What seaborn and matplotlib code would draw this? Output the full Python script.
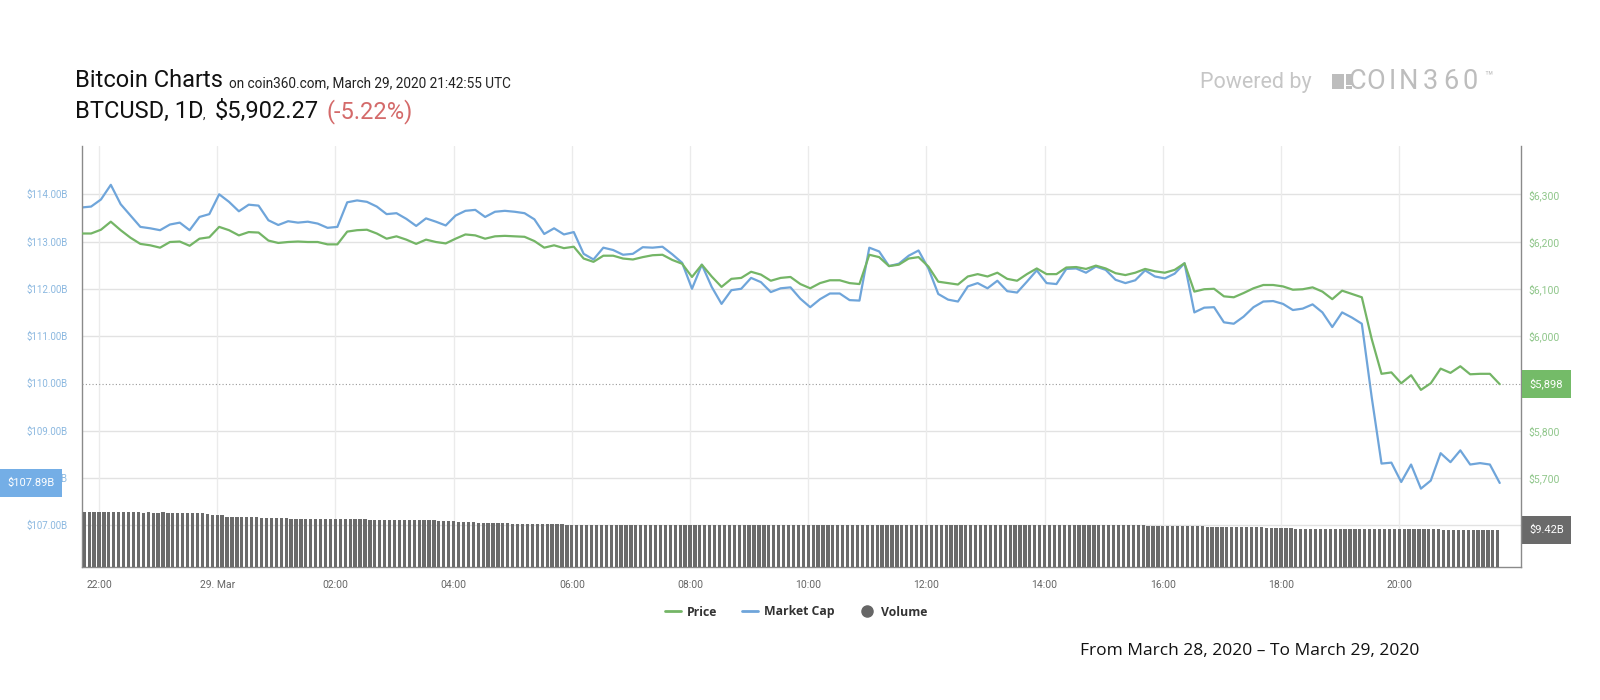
import numpy as np
import pandas as pd
import matplotlib
matplotlib.use("Agg")
import matplotlib.pyplot as plt
import matplotlib.transforms as mtransforms
from matplotlib.lines import Line2D
from matplotlib.patches import Rectangle
import seaborn as sns

sns.set_theme(style="white")
plt.rcParams["font.family"] = ["Roboto", "DejaVu Sans"]

# ---------------- data ----------------
x_tick_hours = [22, 24, 26, 28, 30, 32, 34, 36, 38, 40, 42, 44]
x_tick_labels = ["22:00", "29. Mar", "02:00", "04:00", "06:00", "08:00",
                 "10:00", "12:00", "14:00", "16:00", "18:00", "20:00"]
mcap_ticks = [107, 108, 109, 110, 111, 112, 113, 114]
price_ticks = [5700, 5800, 6000, 6100, 6200, 6300]

# 10-minute samples, 21:42 (28 Mar) -> 21:42 (29 Mar)
price = [
    6217, 6217, 6225, 6242, 6224, 6208, 6195, 6192, 6187, 6199, 6200, 6191,
    6206, 6209, 6231, 6224, 6213, 6220, 6219, 6202, 6197, 6199, 6200, 6199,
    6199, 6194, 6194, 6221, 6224, 6225, 6217, 6206, 6211, 6204, 6195, 6204,
    6199, 6196, 6206, 6215, 6213, 6206, 6211, 6212, 6211, 6210, 6201, 6187,
    6192, 6186, 6189, 6164, 6157, 6170, 6170, 6164, 6162, 6167, 6171, 6172,
    6161, 6153, 6125, 6151, 6126, 6104, 6121, 6123, 6136, 6130, 6117, 6123,
    6125, 6110, 6101, 6112, 6118, 6118, 6112, 6110, 6172, 6167, 6148, 6151,
    6164, 6167, 6147, 6115, 6112, 6109, 6126, 6131, 6126, 6134, 6121, 6117,
    6131, 6143, 6131, 6131, 6145, 6146, 6142, 6149, 6143, 6133, 6129, 6134,
    6142, 6137, 6134, 6140, 6154, 6094, 6099, 6100, 6084, 6082, 6091, 6101,
    6108, 6108, 6105, 6098, 6099, 6103, 6094, 6078, 6096, 6089, 6082, 5994,
    5920, 5923, 5900, 5917, 5886, 5900, 5931, 5922, 5936, 5919, 5920, 5920,
    5898,
]

market_cap = [
    113.72, 113.74, 113.89, 114.20, 113.79, 113.55, 113.31, 113.28, 113.24, 113.36, 113.40, 113.24,
    113.52, 113.58, 114.00, 113.84, 113.64, 113.78, 113.76, 113.45, 113.35, 113.43, 113.40, 113.42,
    113.38, 113.29, 113.31, 113.83, 113.87, 113.84, 113.74, 113.58, 113.60, 113.48, 113.33, 113.49,
    113.42, 113.34, 113.55, 113.65, 113.67, 113.52, 113.63, 113.65, 113.63, 113.60, 113.47, 113.16,
    113.28, 113.15, 113.20, 112.74, 112.62, 112.87, 112.82, 112.72, 112.74, 112.88, 112.87, 112.89,
    112.73, 112.55, 112.00, 112.51, 112.04, 111.68, 111.97, 112.00, 112.23, 112.14, 111.93, 112.01,
    112.03, 111.79, 111.61, 111.78, 111.90, 111.90, 111.76, 111.75, 112.87, 112.79, 112.48, 112.53,
    112.70, 112.81, 112.43, 111.89, 111.77, 111.73, 112.05, 112.12, 112.01, 112.17, 111.95, 111.92,
    112.15, 112.39, 112.12, 112.10, 112.42, 112.43, 112.34, 112.47, 112.40, 112.19, 112.12, 112.18,
    112.39, 112.26, 112.22, 112.32, 112.54, 111.50, 111.60, 111.61, 111.29, 111.26, 111.41, 111.61,
    111.73, 111.74, 111.68, 111.55, 111.58, 111.67, 111.50, 111.19, 111.50, 111.39, 111.26, 109.71,
    108.30, 108.32, 107.91, 108.28, 107.77, 107.94, 108.52, 108.33, 108.58, 108.28, 108.31, 108.28,
    107.89,
]

# 5-minute volume bars (billions USD), 21:45 (28 Mar) -> 21:40 (29 Mar)
volume = [
    14.0, 14.0, 14.0, 14.0, 14.0, 14.0, 14.0, 14.0, 14.0, 14.0, 14.0, 14.0,
    13.8, 13.9, 13.8, 13.8, 13.9, 13.8, 13.8, 13.8, 13.8, 13.8, 13.8, 13.8,
    13.7, 13.5, 13.3, 13.2, 13.2, 12.8, 12.8, 12.8, 12.8, 12.8, 12.8, 12.8,
    12.5, 12.5, 12.5, 12.5, 12.5, 12.5, 12.2, 12.2, 12.2, 12.2, 12.2, 12.2,
    12.2, 12.2, 12.2, 12.2, 12.2, 12.2, 12.2, 12.2, 12.2, 12.2, 12.0, 12.0,
    12.0, 12.0, 12.0, 12.0, 12.0, 12.0, 12.0, 12.0, 12.0, 12.0, 12.0, 12.0,
    11.75, 11.75, 11.75, 11.75, 11.5, 11.5, 11.5, 11.5, 11.2, 11.2, 11.2, 11.2,
    11.2, 11.2, 11.2, 10.95, 10.95, 10.95, 10.95, 10.95, 10.95, 10.95, 10.95, 10.95,
    10.95, 10.95, 10.8, 10.8, 10.8, 10.8, 10.7, 10.7, 10.7, 10.7, 10.7, 10.7,
    10.7, 10.7, 10.7, 10.7, 10.7, 10.7, 10.7, 10.7, 10.7, 10.7, 10.7, 10.7,
    10.7, 10.7, 10.7, 10.7, 10.7, 10.7, 10.6, 10.6, 10.6, 10.6, 10.6, 10.6,
    10.6, 10.6, 10.6, 10.6, 10.6, 10.6, 10.6, 10.6, 10.6, 10.6, 10.6, 10.6,
    10.6, 10.6, 10.6, 10.6, 10.6, 10.6, 10.6, 10.6, 10.6, 10.6, 10.6, 10.6,
    10.7, 10.7, 10.7, 10.7, 10.7, 10.7, 10.7, 10.7, 10.7, 10.7, 10.7, 10.7,
    10.7, 10.7, 10.7, 10.7, 10.7, 10.7, 10.7, 10.7, 10.7, 10.7, 10.7, 10.7,
    10.7, 10.7, 10.7, 10.7, 10.7, 10.7, 10.7, 10.7, 10.7, 10.7, 10.7, 10.7,
    10.6, 10.6, 10.6, 10.6, 10.6, 10.6, 10.6, 10.6, 10.6, 10.6, 10.6, 10.6,
    10.6, 10.6, 10.6, 10.6, 10.6, 10.6, 10.6, 10.6, 10.6, 10.6, 10.6, 10.6,
    10.5, 10.5, 10.5, 10.5, 10.5, 10.5, 10.5, 10.5, 10.5, 10.5, 10.5, 10.5,
    10.3, 10.3, 10.3, 10.3, 10.3, 10.3, 10.3, 10.3, 10.3, 10.3, 10.3, 10.3,
    10.0, 10.0, 10.0, 10.0, 10.0, 10.0, 9.8, 9.8, 9.8, 9.8, 9.8, 9.8,
    9.7, 9.7, 9.7, 9.7, 9.7, 9.7, 9.7, 9.7, 9.7, 9.7, 9.7, 9.7,
    9.6, 9.6, 9.6, 9.6, 9.6, 9.6, 9.6, 9.6, 9.6, 9.6, 9.6, 9.6,
    9.5, 9.5, 9.5, 9.5, 9.5, 9.5, 9.5, 9.5, 9.5, 9.5, 9.5, 9.42,
]

line_start_h = 21 + 42 / 60   # hours since 28 Mar 00:00 UTC
line_step_h = 10 / 60
vol_start_h = 21 + 45 / 60
vol_step_h = 5 / 60

df = pd.DataFrame({
    "hour": line_start_h + np.arange(len(price)) * line_step_h,
    "price": price,
    "market_cap": market_cap,
})
vdf = pd.DataFrame({
    "hour": vol_start_h + np.arange(len(volume)) * vol_step_h,
    "volume": volume,
})

# ---------------- styling ----------------
GREEN = "#74b566"
BLUE = "#6fa5da"
GREEN_LBL = "#8fc68a"
BLUE_LBL = "#8bb8e0"
BAR = "#6b6b6b"
SPINE = "#8a8a8a"

W, H = 1600, 700
fig = plt.figure(figsize=(16, 7), dpi=100, facecolor="white")
L, R, T, B = 81.5, 1521, 146, 567
ax_m = fig.add_axes([L / W, 1 - B / H, (R - L) / W, (B - T) / H])
ax_m.set_facecolor("white")
ax_v = ax_m.twinx()
ax_p = ax_m.twinx()

ax_m.set_xlim(21.704, 46.06)
ax_m.set_ylim(106.111, 115.022)
ax_p.set_ylim(5511.1, 6402.2)
ax_v.set_ylim(0, 107.2)

# grid
for v in mcap_ticks:
    if v != 110:
        ax_m.axhline(v, color="#e2e2e2", lw=1, zorder=0)
for hx in x_tick_hours:
    ax_m.axvline(hx, color="#ebebeb", lw=1, zorder=0)

# volume bars
ax_v.bar(vdf["hour"], vdf["volume"], width=vol_step_h * 0.66, color=BAR,
         linewidth=0, align="center")

# lines
sns.lineplot(data=df, x="hour", y="market_cap", ax=ax_m, color=BLUE, linewidth=1.6)
sns.lineplot(data=df, x="hour", y="price", ax=ax_p, color=GREEN, linewidth=1.6)
ax_p.axhline(price[-1], color="#9a9a9a", lw=0.8, linestyle=(0, (1, 2)), zorder=1)

for a in (ax_m, ax_v, ax_p):
    a.set_xlabel("")
    a.set_ylabel("")
    for s in a.spines.values():
        s.set_visible(False)
ax_m.spines["left"].set_visible(True)
ax_m.spines["bottom"].set_visible(True)
ax_p.spines["right"].set_visible(True)
for s in (ax_m.spines["left"], ax_m.spines["bottom"], ax_p.spines["right"]):
    s.set_color(SPINE)
    s.set_linewidth(1.0)

ax_m.set_xticks(x_tick_hours, x_tick_labels)
ax_m.tick_params(axis="x", length=0, pad=9, labelsize=7.5, labelcolor="#666666")
ax_m.set_yticks(mcap_ticks, [f"${v:.2f}B" for v in mcap_ticks])
ax_m.tick_params(axis="y", length=0, pad=10, labelsize=7, labelcolor=BLUE_LBL)
ax_v.set_yticks([])
ax_v.tick_params(right=False, labelright=False, left=False, labelleft=False)
ax_p.set_yticks(price_ticks, [f"${v:,}" for v in price_ticks])
ax_p.tick_params(axis="y", length=0, pad=5, labelsize=7.5, labelcolor=GREEN_LBL)


def value_box(ax, yval, text, x0, x1, color, h_px=28):
    y0, y1 = ax.get_ylim()
    upp = (y1 - y0) / (B - T)
    trans = mtransforms.blended_transform_factory(fig.transFigure, ax.transData)
    ax.add_patch(Rectangle((x0 / W, yval - h_px / 2 * upp), (x1 - x0) / W, h_px * upp,
                           transform=trans, facecolor=color, edgecolor="none",
                           clip_on=False, zorder=10))
    ax.text((x0 + x1) / 2 / W, yval, text, transform=trans, ha="center", va="center",
            color="white", fontsize=8, zorder=11, clip_on=False)


value_box(ax_m, market_cap[-1], f"${market_cap[-1]:.2f}B", 0, 62, "#74aee6")
value_box(ax_p, price[-1], f"${price[-1]:,.0f}", 1522, 1571, "#74bb68")
value_box(ax_v, volume[-1], f"${volume[-1]:.2f}B", 1522, 1571, "#6a6a6a")

# ---------------- header ----------------
def ftext(x, y, s, **kw):
    return fig.text(x / W, 1 - y / H, s, ha=kw.pop("ha", "left"),
                    va=kw.pop("va", "baseline"), **kw)


ftext(75, 87, "Bitcoin Charts", fontsize=17, color="#111111")
ftext(229, 87, "on coin360.com, March 29, 2020 21:42:55 UTC", fontsize=9.8, color="#222222")
ftext(75, 118, "BTCUSD, 1D", fontsize=17, color="#111111")
ftext(203, 118, ",", fontsize=9, color="#222222")
ftext(215, 118, "$5,902.27", fontsize=17, color="#111111")
ftext(326, 118, "(-5.22%)", fontsize=17, color="#d46a6a")

LOGO = "#bdbdbd"
ftext(1200, 88, "Powered by", fontsize=15.5, color="#c6c6c6")
fig.patches.append(Rectangle((1332 / W, 1 - 89 / H), 12 / W, 15 / H,
                             transform=fig.transFigure, facecolor=LOGO, edgecolor="none"))
fig.patches.append(Rectangle((1346 / W, 1 - 84.5 / H), 6 / W, 10.5 / H,
                             transform=fig.transFigure, facecolor=LOGO, edgecolor="none"))
fig.patches.append(Rectangle((1346 / W, 1 - 89 / H), 6 / W, 3.2 / H,
                             transform=fig.transFigure, facecolor=LOGO, edgecolor="none"))
for ch, cx in zip("COIN360", [1357, 1376, 1392, 1408.5, 1430.5, 1450.5, 1470.5]):
    ftext(cx, 89, ch, fontsize=19.5, color=LOGO, ha="center")
ftext(1489, 80, "\u2122", fontsize=10, color=LOGO, ha="center")

# ---------------- legend ----------------
handles = [
    Line2D([], [], color=GREEN, lw=2),
    Line2D([], [], color=BLUE, lw=2),
    Line2D([], [], color="#666666", marker="o", linestyle="none", markersize=8),
]
leg = fig.legend(handles, ["Price", "Market Cap", "Volume"], loc="center",
                 bbox_to_anchor=(796 / W, 1 - 612 / H), ncol=3, frameon=False,
                 handlelength=1.3, handletextpad=0.5, columnspacing=2.0,
                 prop={"family": ["Open Sans", "DejaVu Sans"], "weight": "bold", "size": 8.8})
for t in leg.get_texts():
    t.set_color("#333333")

ftext(1250, 651, "From March 28, 2020 \u2013 To March 29, 2020", fontsize=12.5,
      color="#111111", ha="center", va="center",
      family=["Open Sans", "DejaVu Sans"])

fig.savefig("out.png", dpi=100, facecolor="white")
